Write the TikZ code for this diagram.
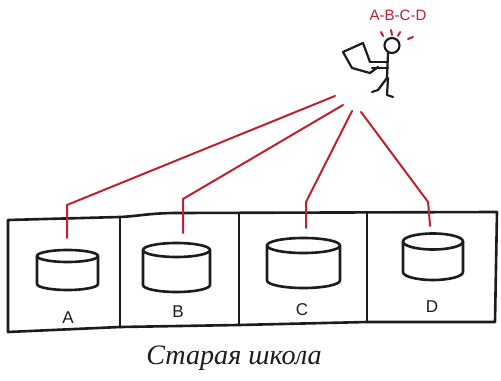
\documentclass[tikz,border=0pt]{standalone}
\usepackage{fontspec}
\setmainfont{Liberation Sans}
\newfontfamily\handfont{Liberation Serif}
\usepackage{tikz}
\definecolor{ink}{RGB}{28, 28, 28}
\definecolor{marker}{RGB}{192, 32, 48}

\begin{document}
\begin{tikzpicture}[scale=0.035, line cap=round, line join=round,
  box/.style={draw=ink, line width=2.6pt},
  wire/.style={draw=marker, line width=2pt},
  stick/.style={draw=ink, line width=2.2pt},
  letter/.style={text=ink, font=\fontsize{17}{17}\selectfont}]
  \useasboundingbox (0, 0) rectangle (501, 380);

  \draw[box] (8, 160) -- (120, 163) .. controls (140, 164) and (150, 167) .. (178, 167)
    -- (497, 168) -- (495, 58) -- (367, 58) -- (239, 55) -- (120, 53) -- (8, 48) -- cycle;
  \draw[box] (120, 163) -- (120, 53);
  \draw[box] (239, 167) -- (239, 55);
  \draw[box] (367, 167) -- (367, 58);

  \draw[box] (67.5, 124) ellipse (30.5 and 6);
  \draw[box] (37, 124) -- (37, 96) arc (180:360:30.5 and 6) -- (98, 124);
  \node[letter] (lA) at (68, 62) {A};

  \draw[box] (176.5, 130) ellipse (33.5 and 7);
  \draw[box] (143, 130) -- (143, 95) arc (180:360:33.5 and 7) -- (210, 130);
  \node[letter] (lB) at (178, 68) {B};

  \draw[box] (303.5, 134.5) ellipse (36.5 and 7.5);
  \draw[box] (267, 134.5) -- (267, 99.5) arc (180:360:36.5 and 7.5) -- (340, 134.5);
  \node[letter] (lC) at (302, 70) {C};

  \draw[box] (433, 138.5) ellipse (30 and 8);
  \draw[box] (403, 138.5) -- (403, 108) arc (180:360:30 and 8) -- (463, 108) -- (463, 138.5);
  \node[letter] (lD) at (432, 73) {D};

  \node[font=\handfont\itshape\fontsize{28}{30}\selectfont, text=ink] (caption) at (234, 22)
    {Старая школа};

  \draw[stick] (392, 334.5) circle (7.5);
  \draw[stick] (388, 327) -- (387, 302);
  \draw[stick] (387, 302) -- (378, 290) -- (372, 288);
  \draw[stick] (388, 302) -- (387, 285) -- (393, 283);
  \draw[stick] (388, 318) -- (370, 318);
  \draw[stick] (388, 312) -- (372, 312);
  \draw[stick] (352, 312) -- (343, 328) -- (363, 337) -- (370, 318);
  \draw[stick] (352, 312) -- (370, 307) -- (378, 313);

  \draw[wire] (381, 348) -- (383, 344);
  \draw[wire] (391, 350) -- (392, 345);
  \draw[wire] (400, 348) -- (398, 344);
  \draw[wire] (408, 341) -- (413, 343);
  \node[text=marker, font=\fontsize{15}{15}\selectfont] (order) at (398, 365) {A-B-C-D};

  \coordinate (pA) at (335, 284);
  \coordinate (kA) at (67, 175);
  \coordinate (tA) at (67, 142);
  \draw[wire] (pA) -- (kA) -- (tA);

  \coordinate (pB) at (343, 275);
  \coordinate (kB) at (183, 181);
  \coordinate (tB) at (183, 147);
  \draw[wire] (pB) -- (kB) -- (tB);

  \coordinate (pC) at (352, 269);
  \coordinate (kC) at (306, 178);
  \coordinate (tC) at (306, 152);
  \draw[wire] (pC) -- (kC) -- (tC);

  \coordinate (pD) at (361, 268);
  \coordinate (kD) at (428, 178);
  \coordinate (tD) at (430, 154);
  \draw[wire] (pD) -- (kD) -- (tD);
\end{tikzpicture}
\end{document}
